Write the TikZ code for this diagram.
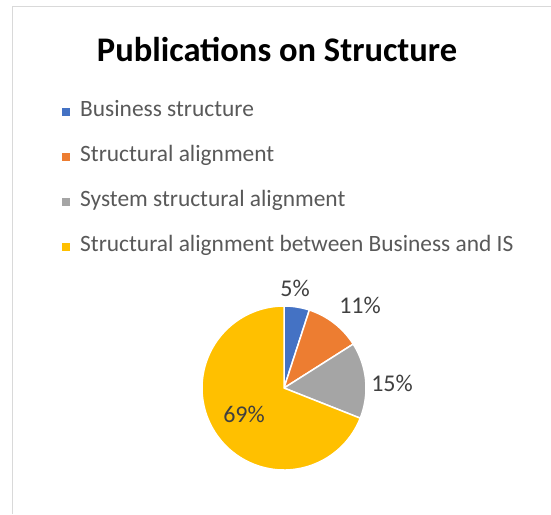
\documentclass[tikz,border=0pt]{standalone}
\usepackage{fontspec}
\setmainfont{Carlito}
\definecolor{cblue}{HTML}{4472C4}
\definecolor{corange}{HTML}{ED7D31}
\definecolor{cgray}{HTML}{A5A5A5}
\definecolor{cgold}{HTML}{FFC000}
\definecolor{ctext}{HTML}{595959}
\definecolor{clabel}{HTML}{404040}
\definecolor{cframe}{HTML}{D9D9D9}
\begin{document}
\begin{tikzpicture}[x=1pt,y=-1pt,
  legtext/.style={anchor=base west,inner sep=0pt,text=ctext,font=\fontsize{23.4}{27}\selectfont},
  legmark/.style={minimum size=7.5pt,inner sep=0pt,draw=none},
  pctlabel/.style={inner sep=0pt,text=clabel,font=\fontsize{24}{28}\selectfont},
  slice/.style={draw=white,line width=1.5pt,line join=round}]
\useasboundingbox (0,0) rectangle (551,514);
\fill[white] (0,0) rectangle (551,514);
\draw[cframe,line width=1.5pt] (12.5,514) -- (12.5,6.5) -- (551,6.5);
\node[inner sep=0pt,anchor=base,font=\bfseries\fontsize{34.5}{40}\selectfont,text=black] (title) at (277,61) {Publications on Structure};
% legend
\node[legmark,fill=cblue] (m1) at (66,112) {};
\node[legtext] (l1) at (80,116.7) {Business structure};
\node[legmark,fill=corange] (m2) at (66,157) {};
\node[legtext] (l2) at (80,161.7) {Structural alignment};
\node[legmark,fill=cgray] (m3) at (66,202) {};
\node[legtext] (l3) at (80,206.7) {System structural alignment};
\node[legmark,fill=cgold] (m4) at (66,247) {};
\node[legtext] (l4) at (80,251.7) {Structural alignment between Business and IS};
% pie
\begin{scope}[shift={(284,388)}]
\filldraw[slice,fill=cblue] (0,0) -- (90:82pt) arc[start angle=90,end angle=72,radius=82pt] -- cycle;
\filldraw[slice,fill=corange] (0,0) -- (72:82pt) arc[start angle=72,end angle=32.4,radius=82pt] -- cycle;
\filldraw[slice,fill=cgray] (0,0) -- (32.4:82pt) arc[start angle=32.4,end angle=-21.6,radius=82pt] -- cycle;
\filldraw[slice,fill=cgold] (0,0) -- (-21.6:82pt) arc[start angle=-21.6,end angle=-270,radius=82pt] -- cycle;
\end{scope}
\node[pctlabel] (p1) at (295,288) {5\%};
\node[pctlabel] (p2) at (360,305) {11\%};
\node[pctlabel] (p3) at (392,383) {15\%};
\node[pctlabel] (p4) at (244,414) {69\%};
\end{tikzpicture}
\end{document}
